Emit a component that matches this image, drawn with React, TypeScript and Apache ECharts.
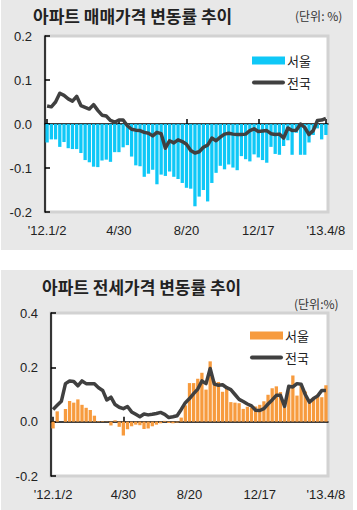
import React, { useEffect, useRef } from 'react';
import * as echarts from 'echarts';

// Weekly categories 2012-01-02 .. 2013-04-08
const categories: string[] = [];
for (let i = 0; i < 67; i++) {
  const d = new Date(2012, 0, 2 + 7 * i);
  categories.push(`${d.getFullYear()}.${d.getMonth() + 1}/${d.getDate()}`);
}
const tickIndices = [0, 17, 33, 50, 66];
const tickLabels = ["'12.1/2", '4/30', '8/20', '12/17', "'13.4/8"];

// 아파트 매매가격 변동률 (%)
const saleSeoul = [
  -0.042, -0.035, -0.035, -0.052, -0.041, -0.055, -0.057, -0.057, -0.066, -0.082,
  -0.087, -0.097, -0.098, -0.083, -0.081, -0.086, -0.064, -0.064, -0.053, -0.048,
  -0.074, -0.094, -0.096, -0.12, -0.113, -0.104, -0.137, -0.115, -0.118, -0.108,
  -0.12, -0.125, -0.134, -0.145, -0.147, -0.187, -0.165, -0.15, -0.176, -0.134,
  -0.111, -0.095, -0.103, -0.092, -0.099, -0.105, -0.073, -0.08, -0.085, -0.069,
  -0.076, -0.082, -0.088, -0.052, -0.068, -0.07, -0.05, -0.037, -0.07, -0.02,
  -0.07, -0.07, -0.042, -0.025, -0.01, -0.035, -0.025,
];
const saleNation = [
  0.041, 0.039, 0.05, 0.07, 0.065, 0.057, 0.052, 0.063, 0.042, 0.038,
  0.034, 0.044, 0.031, 0.02, 0.018, 0.008, 0.004, 0.009, 0.009, -0.004,
  -0.012, -0.014, -0.015, -0.019, -0.021, -0.027, -0.019, -0.022, -0.055, -0.038,
  -0.043, -0.036, -0.04, -0.046, -0.06, -0.066, -0.063, -0.053, -0.048, -0.032,
  -0.038, -0.03, -0.023, -0.021, -0.023, -0.024, -0.024, -0.023, -0.015, -0.011,
  -0.017, -0.016, -0.015, -0.022, -0.024, -0.023, -0.032, -0.009, -0.015, -0.014,
  0.0, -0.008, -0.024, -0.015, 0.008, 0.009, 0.013,
];

// 아파트 전세가격 변동률 (%)
const rentSeoul = [
  -0.025, 0.038, 0.0, 0.047, 0.076, 0.07, 0.082, 0.062, 0.051, 0.043,
  0.022, 0.002, 0.002, 0.001, -0.014, 0.005, -0.019, -0.051, -0.028, -0.017,
  -0.011, -0.013, -0.027, -0.025, -0.017, -0.011, -0.006, 0.003, -0.005, -0.006,
  -0.003, 0.015, 0.06, 0.142, 0.142, 0.158, 0.18, 0.118, 0.222, 0.148,
  0.146, 0.11, 0.128, 0.072, 0.07, 0.068, 0.047, 0.055, 0.052, 0.056,
  0.062, 0.075, 0.099, 0.123, 0.13, 0.109, 0.053, 0.127, 0.17, 0.096,
  0.133, 0.111, 0.069, 0.09, 0.1, 0.09, 0.134,
];
const rentNation = [
  0.045, 0.06, 0.075, 0.14, 0.15, 0.148, 0.132, 0.15, 0.14, 0.14,
  0.14, 0.125, 0.115, 0.08, 0.09, 0.063, 0.053, 0.048, 0.056, 0.036,
  0.027, 0.018, 0.028, 0.025, 0.027, 0.03, 0.034, 0.027, 0.015, 0.018,
  0.022, 0.045, 0.07, 0.085, 0.103, 0.12, 0.15, 0.14, 0.196, 0.138,
  0.134, 0.136, 0.125, 0.118, 0.1, 0.082, 0.074, 0.065, 0.058, 0.042,
  0.041, 0.048, 0.065, 0.08, 0.097, 0.097, 0.056, 0.13, 0.128, 0.14,
  0.138, 0.1, 0.072, 0.085, 0.095, 0.115, 0.115,
];

const FONT = '"Liberation Sans", Arial, sans-serif';
const KFONT = '"Noto Sans CJK KR", sans-serif';
const CYAN = '#0fc8f7';
const ORANGE = '#f79b3e';
const LINE = '#404040';
const LINE_ICON = 'path://M2,0 L31,0 A2,2 0 0 1 31,4 L2,4 A2,2 0 0 1 2,0 Z';

const isTick = (i: number) => tickIndices.includes(i);
const fmtY = (v: number) => (Math.abs(v) < 1e-9 ? '0.0' : v.toFixed(1));

function xAxesFor(grid: number) {
  return [
    {
      gridIndex: grid,
      type: 'category',
      data: categories,
      position: 'bottom',
      axisLine: { show: false, onZero: false },
      axisTick: { show: false },
      splitLine: { show: false },
      axisLabel: {
        interval: (i: number) => isTick(i),
        formatter: (_v: string, i: number) => tickLabels[tickIndices.indexOf(i)] ?? '',
        margin: 12,
        fontSize: 13,
        color: '#222',
        fontFamily: FONT,
      },
    },
    {
      gridIndex: grid,
      type: 'category',
      data: categories,
      position: 'top',
      axisLine: { show: true, onZero: true, lineStyle: { color: '#000', width: 1.5 } },
      axisTick: {
        show: true,
        interval: (i: number) => isTick(i),
        alignWithLabel: true,
        inside: false,
        length: 5,
        lineStyle: { color: '#000', width: 1.5 },
      },
      axisLabel: { show: false },
      splitLine: { show: false },
    },
  ];
}

function yAxisFor(grid: number, min: number, max: number, interval: number) {
  return {
    gridIndex: grid,
    type: 'value',
    min,
    max,
    interval,
    axisLine: { show: true, onZero: false, lineStyle: { color: '#000', width: 1.5 } },
    axisTick: { show: true, inside: true, length: 5, lineStyle: { color: '#000', width: 1.5 } },
    axisLabel: { formatter: fmtY, margin: 13, fontSize: 13, color: '#222', fontFamily: FONT },
    splitLine: { show: false },
  };
}

export default function App() {
  const ref = useRef<HTMLDivElement>(null);
  useEffect(() => {
    if (!ref.current) return;
    const chart = echarts.init(ref.current, undefined, { renderer: 'svg' });
    const legendBase = {
      orient: 'vertical',
      itemWidth: 33,
      itemHeight: 8,
      itemGap: 9,
      padding: 0,
      symbolKeepAspect: true,
      formatter: (n: string) => n.split('-')[1],
      textStyle: { fontSize: 13, color: '#222', fontFamily: KFONT, padding: [0, 0, 0, -3] },
      selectedMode: false,
    };
    chart.setOption({
      animation: false,
      backgroundColor: '#ffffff',
      graphic: [
        { type: 'rect', z: -10, shape: { x: 1, y: 0, width: 352, height: 250 }, style: { fill: '#e8e8e8' } },
        { type: 'rect', z: -10, shape: { x: 1, y: 270, width: 352, height: 240 }, style: { fill: '#e8e8e8' } },
        {
          type: 'text', x: 33, y: 15,
          style: { text: '아파트 매매가격 변동률 추이', font: `bold 17px ${KFONT}`, fill: '#222', verticalAlign: 'middle' },
        },
        {
          type: 'text', x: 295, y: 15,
          style: { text: '(단위: %)', font: `12px ${KFONT}`, fill: '#333', verticalAlign: 'middle' },
        },
        {
          type: 'text', x: 42, y: 286,
          style: { text: '아파트 전세가격 변동률 추이', font: `bold 17px ${KFONT}`, fill: '#222', verticalAlign: 'middle' },
        },
        {
          type: 'text', x: 294, y: 303,
          style: { text: '(단위:%)', font: `12px ${KFONT}`, fill: '#333', verticalAlign: 'middle' },
        },
      ],
      grid: [
        { left: 45, top: 36, width: 283, height: 176, show: true, backgroundColor: '#fff', borderColor: '#d2d2d2', borderWidth: 3 },
        { left: 51, top: 313, width: 277, height: 163, show: true, backgroundColor: '#fff', borderColor: '#d2d2d2', borderWidth: 3 },
      ],
      legend: [
        { ...legendBase, left: 252, top: 54, data: [{ name: '매매-서울', icon: 'rect' }, { name: '매매-전국', icon: LINE_ICON }] },
        { ...legendBase, left: 250, top: 329, data: [{ name: '전세-서울', icon: 'rect' }, { name: '전세-전국', icon: LINE_ICON }] },
      ],
      xAxis: [...xAxesFor(0), ...xAxesFor(1)],
      yAxis: [yAxisFor(0, -0.2, 0.2, 0.1), yAxisFor(1, -0.2, 0.4, 0.2)],
      series: [
        {
          name: '매매-서울', type: 'bar', xAxisIndex: 0, yAxisIndex: 0, data: saleSeoul,
          itemStyle: { color: CYAN }, barCategoryGap: '22%',
        },
        {
          name: '매매-전국', type: 'line', xAxisIndex: 0, yAxisIndex: 0, data: saleNation,
          symbol: 'none', lineStyle: { color: LINE, width: 3.5, join: 'round' }, itemStyle: { color: LINE }, z: 5,
        },
        {
          name: '전세-서울', type: 'bar', xAxisIndex: 2, yAxisIndex: 1, data: rentSeoul,
          itemStyle: { color: ORANGE }, barCategoryGap: '20%',
        },
        {
          name: '전세-전국', type: 'line', xAxisIndex: 2, yAxisIndex: 1, data: rentNation,
          symbol: 'none', lineStyle: { color: LINE, width: 3.5, join: 'round' }, itemStyle: { color: LINE }, z: 5,
        },
      ],
    });
    return () => chart.dispose();
  }, []);
  return (
    <div
      ref={ref}
      style={{ position: 'fixed', left: 0, top: 0, width: 357, height: 510 }}
    />
  );
}
